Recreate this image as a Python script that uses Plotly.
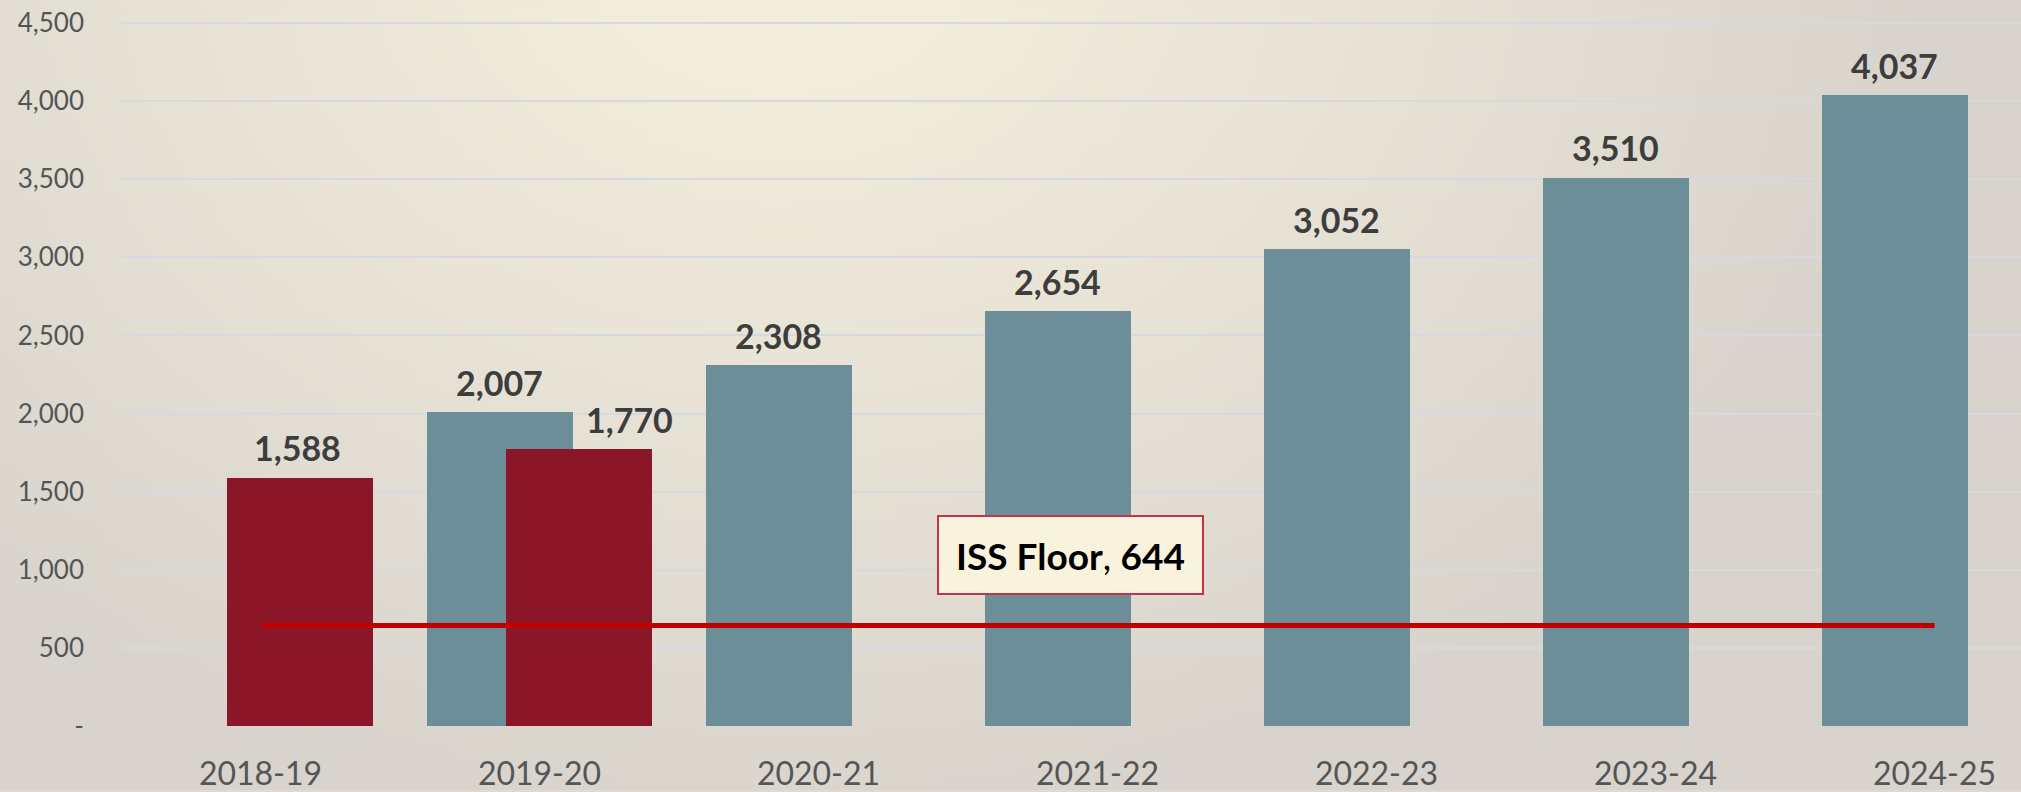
import base64, struct, zlib, math
import plotly.graph_objects as go

# ---------------- data ----------------
categories = ["2018-19", "2019-20", "2020-21", "2021-22", "2022-23", "2023-24", "2024-25"]
blue_cats = ["2019-20", "2020-21", "2021-22", "2022-23", "2023-24", "2024-25"]
blue_vals = [2007, 2308, 2654, 3052, 3510, 4037]
red_cats = ["2018-19", "2019-20"]
red_vals = [1588, 1770]
iss_floor = 644
y_tickvals = [0, 500, 1000, 1500, 2000, 2500, 3000, 3500, 4000, 4500]
y_ticktext = ["-", "500", "1,000", "1,500", "2,000", "2,500", "3,000", "3,500", "4,000", "4,500"]

# ---------------- styles ----------------
BLUE = "#6C8E99"
RED = "#8A1628"
LINE_RED = "#C00000"
LABEL = "#3D3D3D"
TICK = "#555555"
FONT = "Lato"

W, H = 2021, 792
ML, MR, MT, MB = 121, 0, 10, 64
PW, PH = W - ML - MR, H - MT - MB
CAT_PX = 279.0
PX_PER_UNIT = (728 - 23) / 4500.0
BAR_W = 0.523
SHIFT = 0.143


# ---------------- background gradient (PNG built in pure python) ----------------
def make_bg(w=202, h=80):
    inner = (245, 240, 221)
    outer = (216, 212, 205)
    cx, cy = 780.0, -60.0
    rows = []
    for j in range(h):
        row = bytearray([0])
        y = (j + 0.5) / h * H
        for i in range(w):
            x = (i + 0.5) / w * W
            d = math.sqrt(((x - cx) / 1150.0) ** 2 + ((y - cy) / 900.0) ** 2)
            t = min(1.0, d) ** 1.1
            for k in range(3):
                row.append(int(round(inner[k] + (outer[k] - inner[k]) * t)))
        rows.append(bytes(row))
    raw = b"".join(rows)

    def chunk(tag, data):
        c = struct.pack(">I", len(data)) + tag + data
        return c + struct.pack(">I", zlib.crc32(tag + data) & 0xFFFFFFFF)

    png = b"\x89PNG\r\n\x1a\n"
    png += chunk(b"IHDR", struct.pack(">IIBBBBB", w, h, 8, 2, 0, 0, 0))
    png += chunk(b"IDAT", zlib.compress(raw, 9))
    png += chunk(b"IEND", b"")
    return "data:image/png;base64," + base64.b64encode(png).decode()


fig = go.Figure()

fig.add_trace(go.Bar(
    x=blue_cats, y=blue_vals, marker_color=BLUE, marker_line_width=0,
    width=BAR_W, offset=-SHIFT - BAR_W / 2, showlegend=False, hoverinfo="x+y",
))
fig.add_trace(go.Bar(
    x=red_cats, y=red_vals, marker_color=RED, marker_line_width=0,
    width=BAR_W, offset=SHIFT - BAR_W / 2, showlegend=False, hoverinfo="x+y",
))
fig.add_trace(go.Scatter(
    x=categories, y=[iss_floor] * len(categories), mode="lines",
    line=dict(color=LINE_RED, width=5), showlegend=False, hoverinfo="y",
))

annotations = []
for c, v in zip(blue_cats, blue_vals):
    annotations.append(dict(
        x=categories.index(c) - SHIFT, y=v, xref="x", yref="y",
        text=f"<b>{v:,}</b>", showarrow=False, yanchor="middle", yshift=30,
        font=dict(family=FONT, size=34, color=LABEL),
    ))
for c, v in zip(red_cats, red_vals):
    xs = 50 if c == "2019-20" else -3
    annotations.append(dict(
        x=categories.index(c) + SHIFT, y=v, xref="x", yref="y",
        text=f"<b>{v:,}</b>", showarrow=False, yanchor="middle", yshift=30, xshift=xs,
        font=dict(family=FONT, size=34, color=LABEL),
    ))
annotations.append(dict(
    x=2.903, y=1096, xref="x", yref="y",
    text=f"<b>ISS Floor</b>, <b>{iss_floor}</b>", showarrow=False,
    font=dict(family=FONT, size=37, color="#000000"),
    bgcolor="#F9F2DC", bordercolor="#C2334D", borderwidth=2,
    width=257, height=70, borderpad=3, align="center", valign="middle",
))

fig.update_layout(
    width=W, height=H,
    margin=dict(l=ML, r=MR, t=MT, b=MB, pad=0),
    paper_bgcolor="#DEDAD2", plot_bgcolor="rgba(0,0,0,0)",
    barmode="overlay", bargap=0,
    annotations=annotations,
    images=[dict(
        source=make_bg(), xref="paper", yref="paper",
        x=-ML / PW, y=1 + MT / PH, sizex=W / PW, sizey=H / PH,
        xanchor="left", yanchor="top", sizing="stretch", layer="below",
    )],
    xaxis=dict(
        type="category", categoryorder="array", categoryarray=categories,
        range=[-0.5, -0.5 + PW / CAT_PX], showgrid=False, zeroline=False,
        showline=False, ticks="", ticklabelstandoff=26,
        tickfont=dict(family=FONT, size=32, color=TICK),
    ),
    yaxis=dict(
        range=[0, PH / PX_PER_UNIT], tickvals=y_tickvals, ticktext=y_ticktext,
        showgrid=True, gridcolor="#D6D9DD", gridwidth=2, zeroline=False,
        showline=False, ticks="", ticklabelstandoff=36,
        tickfont=dict(family=FONT, size=26, color=TICK),
    ),
    font=dict(family=FONT),
)

fig.write_html(
    "out.html",
    config={"displayModeBar": False},
    post_script="document.body.style.margin='0';document.body.style.overflow='hidden';"
                "document.body.style.background='#DEDAD2';",
)
